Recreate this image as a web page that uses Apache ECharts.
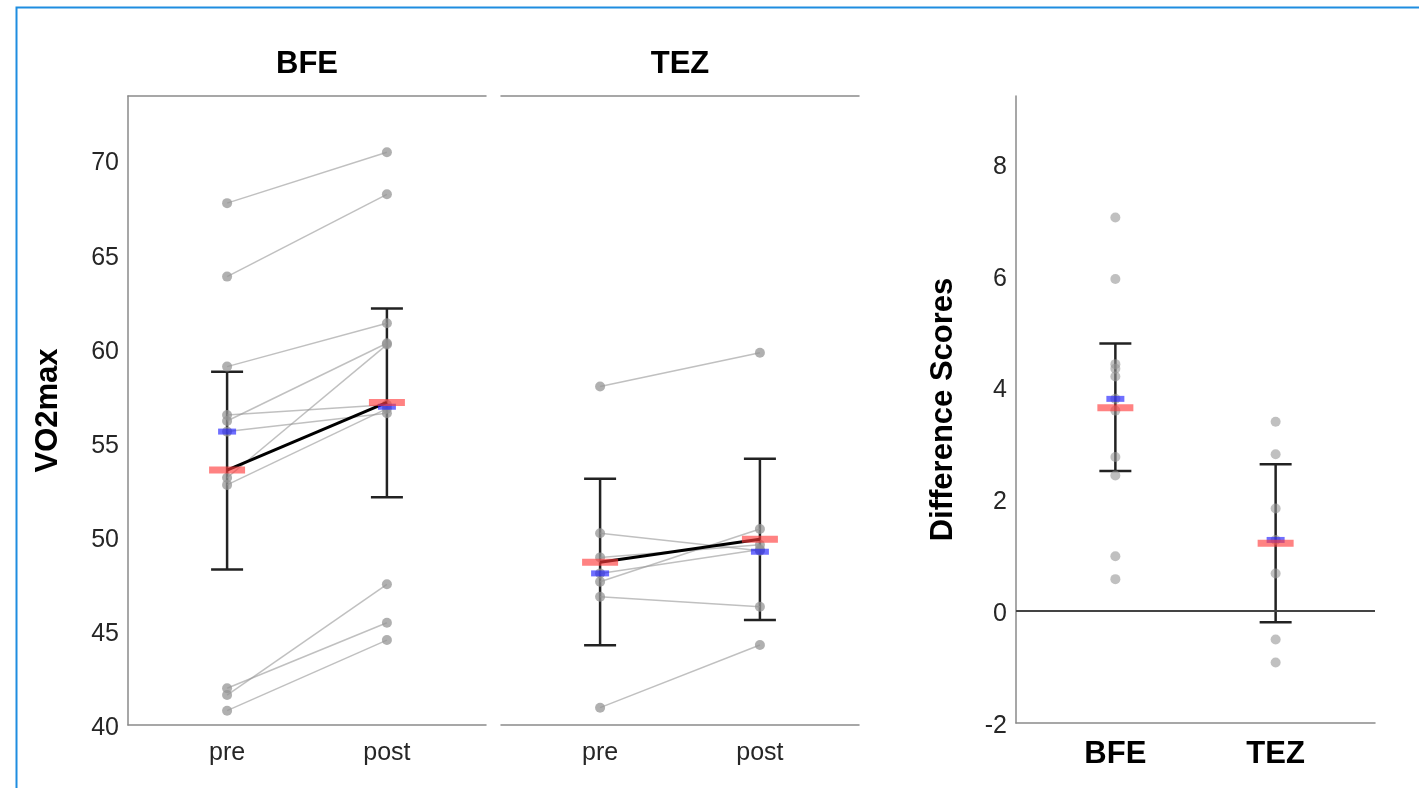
<!DOCTYPE html>
<html>
<head>
<meta charset="utf-8">
<script src="https://cdn.jsdelivr.net/npm/echarts@6/dist/echarts.min.js"></script>
<style>
  html, body { margin: 0; padding: 0; background: #fff; }
  #chart { width: 1419px; height: 788px; }
</style>
</head>
<body>
<div id="chart"></div>
<script>
// ---- data ----
const timeCats = ['pre', 'post'];
const groupCats = ['BFE', 'TEZ'];
const leftTicks = [40, 45, 50, 55, 60, 65, 70];
const rightTicks = [-2, 0, 2, 4, 6, 8];

const bfePre  = [67.71, 63.81, 59.03, 56.46, 56.14, 55.58, 53.13, 52.75, 41.95, 41.59, 40.76];
const bfePost = [70.41, 68.18, 61.33, 57.00, 60.27, 56.55, 60.20, 56.80, 45.43, 47.47, 44.51];
const bfeMean = [53.54, 57.13];
const bfeMedian = [55.58, 56.90];
const bfeErrLo = [48.26, 52.09];
const bfeErrHi = [58.76, 62.12];

const tezPre  = [57.97, 50.18, 48.90, 48.05, 47.61, 46.81, 40.92];
const tezPost = [59.77, 49.25, 49.57, 49.32, 50.41, 46.28, 44.25];
const tezMean = [48.64, 49.86];
const tezMedian = [48.05, 49.20];
const tezErrLo = [44.23, 45.58];
const tezErrHi = [53.08, 54.14];

const bfeDiff = [7.03, 5.93, 4.41, 4.33, 4.19, 3.79, 3.58, 2.75, 2.42, 0.98, 0.57];
const tezDiff = [3.38, 2.80, 1.83, 1.27, 0.67, -0.51, -0.92];
const diffMean = [3.63, 1.21];
const diffMedian = [3.79, 1.27];
const diffErrLo = [2.50, -0.20];
const diffErrHi = [4.78, 2.62];

// ---- styles ----
const FONT = '"Liberation Sans", Arial, sans-serif';
const LABEL_COLOR = '#262626';
const AXIS_COLOR = '#8a8a8a';
const POINT_COLOR = 'rgba(150,150,150,0.75)';
const SUBJ_LINE = 'rgba(150,150,150,0.6)';
const MEAN_COLOR = 'rgba(255,60,60,0.8)';
const MEDIAN_COLOR = 'rgba(30,30,255,0.8)';
const ERR_COLOR = '#222';

const chart = echarts.init(document.getElementById('chart'), null, { renderer: 'canvas' });

const X_MIN = 0.38, X_MAX = 2.62;

function bottomX(grid, labels, bold) {
  return {
    type: 'value', gridIndex: grid, position: 'bottom', min: X_MIN, max: X_MAX,
    axisLine: { show: true, onZero: false, lineStyle: { color: AXIS_COLOR, width: 1.5 } },
    axisTick: { show: false },
    splitLine: { show: false },
    axisLabel: {
      customValues: [1, 2],
      formatter: v => labels[Math.round(v) - 1] || '',
      color: bold ? '#000' : LABEL_COLOR,
      fontFamily: FONT, fontSize: bold ? 31 : 25, fontWeight: bold ? 'bold' : 'normal',
      margin: bold ? 16 : 16
    }
  };
}
function topX(grid, name) {
  return {
    type: 'value', gridIndex: grid, position: 'top', min: X_MIN, max: X_MAX,
    axisLine: { show: true, onZero: false, lineStyle: { color: AXIS_COLOR, width: 1.5 } },
    axisTick: { show: false }, axisLabel: { show: false }, splitLine: { show: false },
    name: name, nameLocation: 'middle', nameGap: 32,
    nameTextStyle: { fontFamily: FONT, fontSize: 31, fontWeight: 'bold', color: '#000', verticalAlign: 'middle' }
  };
}

const xAxis = [
  bottomX(0, timeCats, false),
  bottomX(1, timeCats, false),
  bottomX(2, groupCats, true),
  topX(0, groupCats[0]),
  topX(1, groupCats[1])
];

const yLabelStyle = {
  color: LABEL_COLOR, fontFamily: FONT, fontSize: 25, margin: 9,
  formatter: v => '{t|' + v + '}',
  rich: { t: { color: LABEL_COLOR, fontFamily: FONT, fontSize: 25, padding: [7, 0, 0, 0] } }
};

const yAxis = [
  {
    type: 'value', gridIndex: 0, min: 40, max: 73.4,
    axisLine: { show: true, lineStyle: { color: AXIS_COLOR, width: 1.5 } },
    axisTick: { show: false }, splitLine: { show: false },
    axisLabel: Object.assign({ customValues: leftTicks }, yLabelStyle),
    name: 'VO2max', nameLocation: 'middle', nameGap: 80, nameRotate: 90,
    nameTextStyle: { fontFamily: FONT, fontSize: 31, fontWeight: 'bold', color: '#000', verticalAlign: 'middle' }
  },
  {
    type: 'value', gridIndex: 1, min: 40, max: 73.4,
    axisLine: { show: false }, axisTick: { show: false }, splitLine: { show: false },
    axisLabel: { show: false }
  },
  {
    type: 'value', gridIndex: 2, min: -2, max: 9.2,
    axisLine: { show: true, onZero: false, lineStyle: { color: AXIS_COLOR, width: 1.5 } },
    axisTick: { show: false }, splitLine: { show: false },
    axisLabel: Object.assign({ customValues: rightTicks }, yLabelStyle),
    name: 'Difference Scores', nameLocation: 'middle', nameGap: 73, nameRotate: 90,
    nameTextStyle: { fontFamily: FONT, fontSize: 31, fontWeight: 'bold', color: '#000', verticalAlign: 'middle' }
  }
];

const series = [];

function subjectLines(pre, post, axisIdx) {
  pre.forEach((v, i) => {
    series.push({
      type: 'line', xAxisIndex: axisIdx, yAxisIndex: axisIdx,
      data: [[1, v], [2, post[i]]],
      symbol: 'circle', symbolSize: 10,
      itemStyle: { color: POINT_COLOR },
      lineStyle: { color: SUBJ_LINE, width: 1.5 },
      z: 3, silent: true, animation: false
    });
  });
}

function errorBars(lo, hi, axisIdx) {
  series.push({
    type: 'custom', xAxisIndex: axisIdx, yAxisIndex: axisIdx,
    data: lo.map((l, i) => [i + 1, l, hi[i]]),
    renderItem: (params, api) => {
      const x = api.value(0);
      const pLo = api.coord([x, api.value(1)]);
      const pHi = api.coord([x, api.value(2)]);
      const hw = 16;
      const style = { stroke: ERR_COLOR, lineWidth: 2.5 };
      return {
        type: 'group',
        children: [
          { type: 'line', shape: { x1: pLo[0], y1: pLo[1], x2: pHi[0], y2: pHi[1] }, style },
          { type: 'line', shape: { x1: pLo[0] - hw, y1: pLo[1], x2: pLo[0] + hw, y2: pLo[1] }, style },
          { type: 'line', shape: { x1: pHi[0] - hw, y1: pHi[1], x2: pHi[0] + hw, y2: pHi[1] }, style }
        ]
      };
    },
    z: 2, silent: true, animation: false
  });
}

function markers(mean, median, axisIdx, withLine) {
  if (withLine) {
    series.push({
      type: 'line', xAxisIndex: axisIdx, yAxisIndex: axisIdx,
      data: mean.map((m, i) => [i + 1, m]),
      symbol: 'none', lineStyle: { color: '#000', width: 3 },
      z: 5, silent: true, animation: false
    });
  }
  series.push({
    type: 'scatter', xAxisIndex: axisIdx, yAxisIndex: axisIdx,
    data: median.map((m, i) => [i + 1, m]),
    symbol: 'rect', symbolSize: [18, 6],
    itemStyle: { color: MEDIAN_COLOR },
    z: 6, silent: true, animation: false
  });
  series.push({
    type: 'scatter', xAxisIndex: axisIdx, yAxisIndex: axisIdx,
    data: mean.map((m, i) => [i + 1, m]),
    symbol: 'rect', symbolSize: [36, 7],
    itemStyle: { color: MEAN_COLOR },
    z: 7, silent: true, animation: false
  });
}

// BFE panel
errorBars(bfeErrLo, bfeErrHi, 0);
subjectLines(bfePre, bfePost, 0);
markers(bfeMean, bfeMedian, 0, true);
// TEZ panel
errorBars(tezErrLo, tezErrHi, 1);
subjectLines(tezPre, tezPost, 1);
markers(tezMean, tezMedian, 1, true);
// Difference panel
errorBars(diffErrLo, diffErrHi, 2);
series.push({
  type: 'scatter', xAxisIndex: 2, yAxisIndex: 2,
  data: bfeDiff.map(v => [1, v]).concat(tezDiff.map(v => [2, v])),
  symbol: 'circle', symbolSize: 10,
  itemStyle: { color: POINT_COLOR },
  z: 3, silent: true, animation: false,
  markLine: {
    silent: true, symbol: 'none', animation: false,
    label: { show: false },
    lineStyle: { color: '#444', width: 2, type: 'solid' },
    data: [{ yAxis: 0 }]
  }
});
markers(diffMean, diffMedian, 2, false);

chart.setOption({
  backgroundColor: '#fff',
  animation: false,
  grid: [
    { left: 128, top: 96, width: 358, height: 629 },
    { left: 501, top: 96, width: 358, height: 629 },
    { left: 1016, top: 96, width: 359, height: 627 }
  ],
  xAxis, yAxis, series,
  graphic: [{
    type: 'rect', left: 14, top: 5, silent: true,
    shape: { width: 1460, height: 840 },
    style: { fill: 'none', stroke: '#1f8de0', lineWidth: 2 }
  }]
});
</script>
</body>
</html>
